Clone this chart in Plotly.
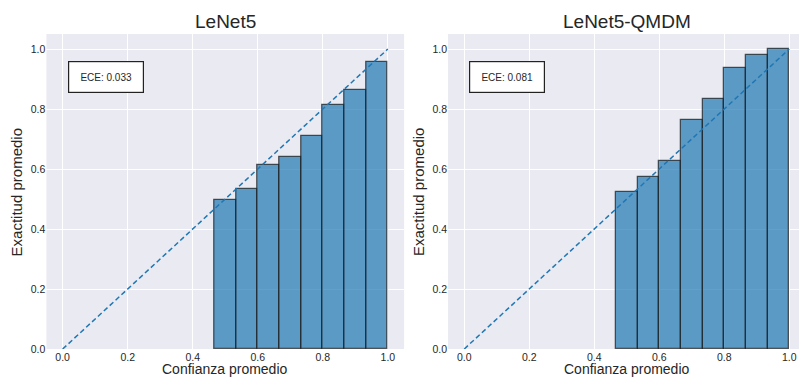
import plotly.graph_objects as go

# Reliability diagram data: 15 equal-width confidence bins, only the populated ones
bin_lower = [0.4667, 0.5333, 0.6000, 0.6667, 0.7333, 0.8000, 0.8667, 0.9333]
acc_lenet5 = [0.498, 0.535, 0.613, 0.640, 0.709, 0.813, 0.862, 0.957]
acc_qmdm = [0.524, 0.574, 0.626, 0.764, 0.835, 0.937, 0.980, 1.000]
titles = ["LeNet5", "LeNet5-QMDM"]
ece_labels = ["ECE: 0.033", "ECE: 0.081"]
tick_vals = [0.0, 0.2, 0.4, 0.6, 0.8, 1.0]
bin_width = 1 / 15

W, H = 799, 378
FONT = "Liberation Sans, Arial, sans-serif"
BG = "#EAEAF2"
TXT = "#262626"

fig = go.Figure()

# pixel layout of the two panels
panels = [
    dict(x0=46.4, x1=404.1, xr=[-0.05, 1.05]),
    dict(x0=448.0, x1=799.0, xr=[-0.05, 1.03]),
]
y_top, y_bot = 34.0, 349.0

for i, (accs, p) in enumerate(zip([acc_lenet5, acc_qmdm], panels)):
    xa = "x" if i == 0 else "x2"
    ya = "y" if i == 0 else "y2"
    centers = [b + bin_width / 2 for b in bin_lower]
    fig.add_trace(go.Bar(
        x=centers, y=accs, width=[bin_width] * len(centers),
        marker=dict(color="rgba(31,119,180,0.7)",
                    line=dict(color="rgba(25,25,25,0.7)", width=1.3)),
        xaxis=xa, yaxis=ya, showlegend=False,
    ))
    fig.add_trace(go.Scatter(
        x=[0, 1], y=[0, 1], mode="lines",
        line=dict(color="#1f77b4", width=1.5, dash="5px,3px"),
        xaxis=xa, yaxis=ya, showlegend=False,
    ))

    dom_x = [p["x0"] / W, p["x1"] / W]
    dom_y = [1 - y_bot / H, 1 - y_top / H]
    axis_common = dict(
        showgrid=True, gridcolor="white", gridwidth=1.2,
        zeroline=False, showline=False, ticks="", automargin=False,
        tickvals=tick_vals, tickformat=".1f",
        tickfont=dict(family=FONT, size=10.5, color=TXT),
    )
    fig.update_layout(**{
        ("xaxis" if i == 0 else "xaxis2"): dict(
            domain=dom_x, range=p["xr"], anchor=ya, **axis_common),
        ("yaxis" if i == 0 else "yaxis2"): dict(
            domain=dom_y, range=[0, 1.05], anchor=xa, **axis_common),
    })

    # panel background
    fig.add_shape(type="rect", xref="paper", yref="paper",
                  x0=dom_x[0], x1=dom_x[1], y0=dom_y[0], y1=dom_y[1],
                  fillcolor=BG, line=dict(width=0), layer="below")

    cx = (p["x0"] + 357.7 / 2) / W
    fig.add_annotation(text=titles[i], xref="paper", yref="paper",
                       x=cx, y=1 - 22 / H,
                       showarrow=False, xanchor="center", yanchor="middle",
                       font=dict(family=FONT, size=19, color=TXT))
    fig.add_annotation(text="Confianza promedio", xref="paper", yref="paper",
                       x=cx, y=0.0, borderpad=0,
                       showarrow=False, xanchor="center", yanchor="bottom",
                       font=dict(family=FONT, size=14, color=TXT))
    fig.add_annotation(text="Exactitud promedio", xref="paper", yref="paper",
                       x=(p["x0"] - 30) / W, y=1 - 192 / H, textangle=-90,
                       showarrow=False, xanchor="center", yanchor="middle",
                       font=dict(family=FONT, size=15, color=TXT))
    # ECE box
    fig.add_annotation(text=ece_labels[i], xref=xa, yref=ya,
                       x=0.132, y=0.908, showarrow=False,
                       xanchor="center", yanchor="middle",
                       width=72, height=28, bgcolor="white",
                       bordercolor="#222222", borderwidth=1.2,
                       font=dict(family=FONT, size=10, color=TXT))

fig.update_layout(
    width=W, height=H, margin=dict(l=0, r=0, t=0, b=0, autoexpand=False),
    paper_bgcolor="white", plot_bgcolor="rgba(0,0,0,0)",
    bargap=0, showlegend=False,
)

fig.write_html("out.html")
